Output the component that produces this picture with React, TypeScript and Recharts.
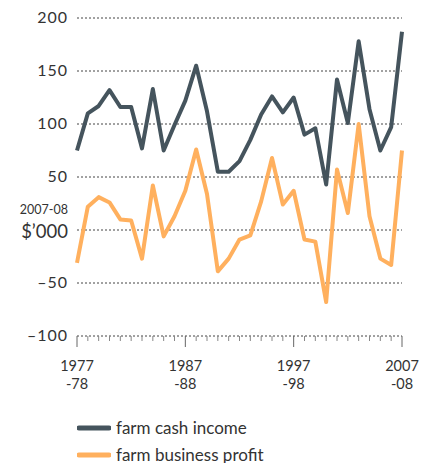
import { CartesianGrid, Line, LineChart, XAxis, YAxis } from "recharts";

// financial years, labelled by their first year (1977 = 1977-78)
const years = [
  1977, 1978, 1979, 1980, 1981, 1982, 1983, 1984, 1985, 1986, 1987, 1988, 1989, 1990, 1991, 1992,
  1993, 1994, 1995, 1996, 1997, 1998, 1999, 2000, 2001, 2002, 2003, 2004, 2005, 2006, 2007
];
const cashIncome = [
  75, 110, 117, 132, 116, 116, 77, 133, 75, 99, 122, 155, 112, 55, 55, 65,
  85, 109, 126, 111, 125, 90, 96, 43, 142, 101, 178, 114, 75, 97, 187
];
const businessProfit = [
  -31, 22, 31, 26, 10, 9, -27, 42, -6, 13, 37, 76, 34, -39, -27, -9,
  -5, 27, 68, 24, 37, -9, -11, -68, 57, 16, 100, 13, -27, -33, 75
];
const yTicks = [-100, -50, 0, 50, 100, 150, 200];
const majorYears = [1977, 1987, 1997, 2007];
const majorLabels = [
  ["1977", "-78"],
  ["1987", "-88"],
  ["1997", "-98"],
  ["2007", "-08"]
];

const series = [
  { key: "cash", name: "farm cash income", color: "#45545d" },
  { key: "profit", name: "farm business profit", color: "#ffb05e" }
];

const data = years.map((year, i) => ({
  year,
  cash: cashIncome[i],
  profit: businessProfit[i]
}));

const font = "Lato, 'Noto Sans', sans-serif";

function YTick({ x, y, payload }: any) {
  const v = payload.value;
  if (v === 0) {
    // unit label sits where the zero tick would be
    return (
      <g>
        <text x={x} y={y - 16} textAnchor="end" fontSize={12.5} fill="#333" fontFamily={font}>
          2007-08
        </text>
        <text x={x} y={y + 8} textAnchor="end" fontSize={18.5} fill="#333" fontFamily={font}>
          $’000
        </text>
      </g>
    );
  }
  const label = v < 0 ? "\u2013" + Math.abs(v) : String(v);
  return (
    <text x={x} y={y + 5} textAnchor="end" fontSize={16} fill="#333" fontFamily={font} letterSpacing={1}>
      {label}
    </text>
  );
}

function XTick({ x, y, payload }: any) {
  const idx = majorYears.indexOf(payload.value);
  if (idx < 0) {
    return <line x1={x} x2={x} y1={y} y2={y + 5} stroke="#888" strokeWidth={1} />;
  }
  const [top, bottom] = majorLabels[idx];
  return (
    <g>
      <line x1={x} x2={x} y1={y} y2={y + 11} stroke="#666" strokeWidth={1} />
      <text x={x} y={y + 35} textAnchor="middle" fontSize={14.5} fill="#333" fontFamily={font}>
        {top}
      </text>
      <text x={x} y={y + 53} textAnchor="middle" fontSize={14.5} fill="#333" fontFamily={font}>
        {bottom}
      </text>
    </g>
  );
}

export default function App() {
  return (
    <div style={{ position: "absolute", left: 0, top: 0, width: 423, height: 463, background: "#fff" }}>
      <LineChart width={423} height={463} data={data} margin={{ top: 18, right: 21, left: 8, bottom: 0 }}>
        <CartesianGrid horizontal vertical={false} stroke="#444" strokeDasharray="2 2" />
        <XAxis
          dataKey="year"
          type="number"
          domain={[1977, 2007]}
          ticks={years}
          interval={0}
          axisLine={false}
          tickLine={false}
          tickSize={0}
          tickMargin={0}
          height={127}
          tick={<XTick />}
        />
        <YAxis
          domain={[-100, 200]}
          ticks={yTicks}
          interval={0}
          axisLine={false}
          tickLine={false}
          tickSize={0}
          tickMargin={9}
          width={69}
          tick={<YTick />}
        />
        {series.map((s) => (
          <Line
            key={s.key}
            dataKey={s.key}
            name={s.name}
            stroke={s.color}
            strokeWidth={4}
            strokeLinejoin="round"
            dot={false}
            type="linear"
            isAnimationActive={false}
          />
        ))}
      </LineChart>
      <div style={{ position: "absolute", left: 77, top: 414, fontFamily: font }}>
        {series.map((s) => (
          <div key={s.key} style={{ display: "flex", alignItems: "center", height: 27 }}>
            <svg width={34} height={10} style={{ marginRight: 5 }}>
              <line x1={2} x2={32} y1={5} y2={5} stroke={s.color} strokeWidth={5} strokeLinecap="round" />
            </svg>
            <span style={{ fontSize: 17, lineHeight: "20px", color: "#333" }}>{s.name}</span>
          </div>
        ))}
      </div>
    </div>
  );
}
